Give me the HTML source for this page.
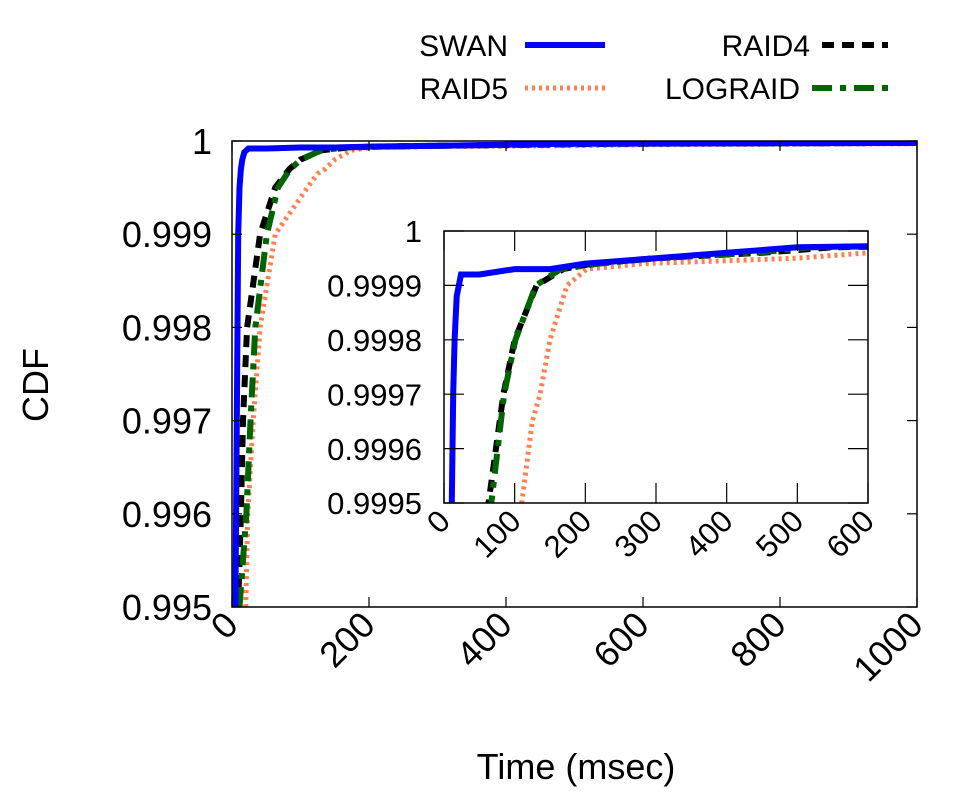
<!DOCTYPE html>
<html><head><meta charset="utf-8"><style>
html,body{margin:0;padding:0;background:#fff;overflow:hidden;width:980px;height:800px}
svg{display:block}
svg text{font-family:"Liberation Sans",Arial,sans-serif;fill:#000}
</style></head><body>
<svg id="chart" width="980" height="800">
<defs>
<clipPath id="mainClip"><rect x="232" y="141" width="685" height="466"/></clipPath>
<clipPath id="insetClip"><rect x="444" y="231" width="424" height="272"/></clipPath>
</defs>
<g id="legend"></g>
<g id="main"></g>
<g id="inset"></g>
<text x="48" y="385" font-size="36" text-anchor="middle" transform="rotate(-90 48 385)">CDF</text>
<text x="576" y="779" font-size="36" text-anchor="middle">Time (msec)</text>
</svg>
<script>
const seriesNames=["SWAN","RAID5","RAID4","LOGRAID"];
const swanX=[5,7,9,11,13,15,18,24,50,100,150,200,300,400,500,1000];
const swanY=[0.995,0.997,0.999,0.9995,0.9997,0.9998,0.99988,0.99992,0.99992,0.99993,0.99993,0.99994,0.99995,0.99996,0.99997,0.99998];
const raid4X=[9,13,16,22,41,63,84,100,131,169,210,300,450,550,1000];
const raid4Y=[0.995,0.996,0.997,0.998,0.999,0.9995,0.9997,0.9998,0.9999,0.99993,0.99994,0.99995,0.99996,0.99997,0.99998];
const lograidX=[11,21,27,34,51,67,85,101,130,165,220,300,440,520,1000];
const lograidY=[0.995,0.996,0.997,0.998,0.999,0.9995,0.9997,0.9998,0.9999,0.99993,0.99994,0.99995,0.99996,0.99997,0.99998];
const raid5X=[20,23,31,41,63,110,125,136,150,174,202,283,500,600,1000];
const raid5Y=[0.995,0.996,0.997,0.998,0.999,0.9995,0.99965,0.9997,0.9998,0.9999,0.99993,0.99994,0.99995,0.99996,0.99997];
const mainXTicks=[0,200,400,600,800,1000];
const mainYTicks=[0.995,0.996,0.997,0.998,0.999,1];
const mainYLabels=["0.995","0.996","0.997","0.998","0.999","1"];
const insetXTicks=[0,100,200,300,400,500,600];
const insetYTicks=[0.9995,0.9996,0.9997,0.9998,0.9999,1];
const insetYLabels=["0.9995","0.9996","0.9997","0.9998","0.9999","1"];

const NS="http://www.w3.org/2000/svg";
function mk(tag,attrs,parent){const e=document.createElementNS(NS,tag);for(const k in attrs)e.setAttribute(k,attrs[k]);parent.appendChild(e);return e;}
const styles={
 SWAN:{stroke:"#0000ff",w:6,dash:"",x:swanX,y:swanY},
 RAID5:{stroke:"#ff7f50",w:5,dash:"3,4",x:raid5X,y:raid5Y},
 RAID4:{stroke:"#000",w:6,dash:"12,8",x:raid4X,y:raid4Y},
 LOGRAID:{stroke:"#006400",w:6,dash:"20,8,6,8",x:lograidX,y:lograidY}
};
function axes(g,x0,x1,y0,y1,xmin,xmax,ymin,ymax,xt,yt,yl,fs,tl,clip,prefix,yoff){
 const sx=v=>x0+(v-xmin)/(xmax-xmin)*(x1-x0);
 const sy=v=>y1-(v-ymin)/(ymax-ymin)*(y1-y0);
 mk("rect",{x:x0,y:y0,width:x1-x0,height:y1-y0,fill:"#fff",stroke:"none"},g);
 ["RAID5","RAID4","LOGRAID","SWAN"].forEach(n=>{
  const s=styles[n];
  const d=s.x.map((v,i)=>(i?"L":"M")+sx(v).toFixed(1)+","+sy(s.y[i]).toFixed(1)).join("");
  const p=mk("path",{d:d,fill:"none",stroke:s.stroke,"stroke-width":s.w,"stroke-dasharray":s.dash,"clip-path":"url(#"+clip+")"},g);
  
  
 });
 mk("rect",{x:x0,y:y0,width:x1-x0,height:y1-y0,fill:"none",stroke:"#000","stroke-width":1.5},g);
 xt.forEach(v=>{const x=sx(v);
  mk("line",{x1:x,x2:x,y1:y1,y2:y1-tl,stroke:"#000","stroke-width":1.2},g);
  mk("line",{x1:x,x2:x,y1:y0,y2:y0+tl,stroke:"#000","stroke-width":1.2},g);
  const t=mk("text",{x:x+8,y:y1+20,"font-size":fs,"text-anchor":"end",transform:`rotate(-45 ${x+8} ${y1+20})`},g);
  t.textContent=v;
  
  
 });
 yt.forEach((v,i)=>{const y=sy(v);
  mk("line",{x1:x0,x2:x0+tl,y1:y,y2:y,stroke:"#000","stroke-width":1.2},g);
  mk("line",{x1:x1,x2:x1-tl,y1:y,y2:y,stroke:"#000","stroke-width":1.2},g);
  const t=mk("text",{x:x0-yoff,y:y+fs*0.36,"font-size":fs,"text-anchor":"end"},g);
  t.textContent=yl[i];
  
  
 });
}
const gm=document.getElementById("main");

axes(gm,232,917,141,607,0,1000,0.995,1,mainXTicks,mainYTicks,mainYLabels,36,10,"mainClip","main",20);
const gi=document.getElementById("inset");

axes(gi,444,868,231,503,0,600,0.9995,1,insetXTicks,insetYTicks,insetYLabels,31,20,"insetClip","inset",22);
const lg=document.getElementById("legend");
const leg=[["SWAN",508,45,525,605],["RAID4",810,45,822,888],["RAID5",508,88,525,605],["LOGRAID",800,88,812,888]];
leg.forEach(l=>{const s=styles[l[0]];
 const t=mk("text",{x:l[1],y:l[2]+11,"font-size":30,"text-anchor":"end"},lg);t.textContent=l[0];
 
 
 const ln=mk("line",{x1:l[3],x2:l[4],y1:l[2],y2:l[2],stroke:s.stroke,"stroke-width":s.w,"stroke-dasharray":s.dash},lg);
 
 
});
</script>
</body></html>
